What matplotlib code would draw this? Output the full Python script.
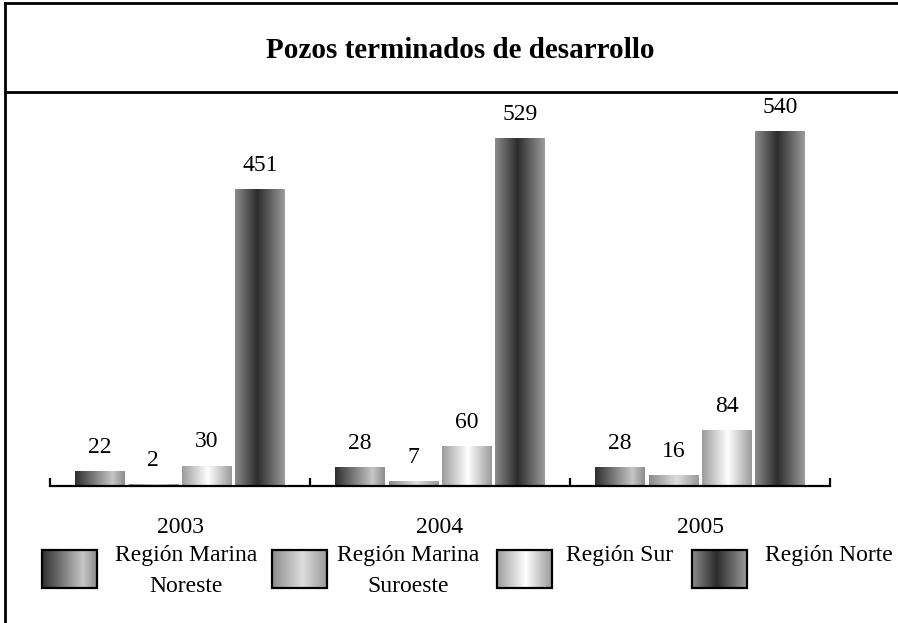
import matplotlib
matplotlib.use("Agg")
import matplotlib.pyplot as plt
import numpy as np
from matplotlib.colors import LinearSegmentedColormap
from matplotlib.patches import Rectangle

plt.rcParams["font.family"] = ["Liberation Serif", "DejaVu Serif"]

# ── Data ──────────────────────────────────────────────────────────────────────
years = ["2003", "2004", "2005"]
regions = ["Región Marina\nNoreste", "Región Marina\nSuroeste", "Región Sur", "Región Norte"]
marina_noreste = [22, 28, 28]
marina_suroeste = [2, 7, 16]
sur = [30, 60, 84]
norte = [451, 529, 540]
series = [marina_noreste, marina_suroeste, sur, norte]

# ── Gradients (horizontal shading of each series) ────────────────────────────
grads = [
    LinearSegmentedColormap.from_list("mn", [(0, "#2e2e2e"), (0.75, "#c6c6c6"), (1, "#8c8c8c")]),
    LinearSegmentedColormap.from_list("ms", [(0, "#8a8a8a"), (0.55, "#dedede"), (1, "#9a9a9a")]),
    LinearSegmentedColormap.from_list("su", [(0, "#9c9c9c"), (0.52, "#ffffff"), (1, "#9a9a9a")]),
    LinearSegmentedColormap.from_list("no", [(0, "#8c8c8c"), (0.45, "#2c2c2c"), (1, "#9c9c9c")]),
]
ramp = np.linspace(0, 1, 256).reshape(1, -1)

W, H = 898, 623
fig = plt.figure(figsize=(W / 100, H / 100), dpi=100)
fig.patch.set_facecolor("white")

# ── Main bar axes ─────────────────────────────────────────────────────────────
ax = fig.add_axes([50 / W, 137 / H, 780 / W, 394 / H])
ax.set_xlim(-0.5, 2.5)
ax.set_ylim(0, 600)
ax.patch.set_alpha(0)

x = np.arange(len(years))
step, bw = 0.205, 0.19
for i, vals in enumerate(series):
    bars = ax.bar(x + (i - 1.5) * step, vals, width=bw, color="none", edgecolor="none")
    for b, v in zip(bars, vals):
        bx, bwid, bh = b.get_x(), b.get_width(), b.get_height()
        ax.imshow(ramp, cmap=grads[i], aspect="auto", interpolation="bilinear",
                  extent=(bx, bx + bwid, 0, bh), zorder=2)
        ax.annotate(f"{v}", (bx + bwid / 2, bh), xytext=(0, 10), textcoords="offset points",
                    ha="center", va="bottom", fontsize=17)
ax.set_xlim(-0.5, 2.5)
ax.set_ylim(0, 600)

for s in ["top", "right", "left"]:
    ax.spines[s].set_visible(False)
ax.spines["bottom"].set_linewidth(1.6)
ax.set_yticks([])
ax.set_xticks([-0.5, 0.5, 1.5, 2.5])
ax.set_xticklabels([])
ax.tick_params(axis="x", which="major", direction="in", length=6, width=1.6)
ax.set_xticks(x, minor=True)
ax.set_xticklabels(years, minor=True, fontsize=17)
ax.tick_params(axis="x", which="minor", length=0, pad=22)

# ── Frame, title and legend ──────────────────────────────────────────────────
ov = fig.add_axes([0, 0, 1, 1])
ov.set_xlim(0, W)
ov.set_ylim(H, 0)
ov.axis("off")
ov.patch.set_alpha(0)
ov.plot([5, 5], [3, H], color="black", lw=2)
ov.plot([5, W], [3, 3], color="black", lw=2)
ov.plot([5, W], [92, 92], color="black", lw=2)
ov.text(460, 51, "Pozos terminados de desarrollo", ha="center", va="center",
        fontsize=21, fontweight="bold")

leg_boxes = [42, 272, 497, 692]
leg_text = [186, 408, 620, 829]
for i, (lx, tx) in enumerate(zip(leg_boxes, leg_text)):
    ov.imshow(ramp, cmap=grads[i], aspect="auto", interpolation="bilinear",
              extent=(lx, lx + 55, 588, 550), zorder=2)
    ov.add_patch(Rectangle((lx, 550), 55, 38, fill=False, edgecolor="black", lw=1.6, zorder=3))
    ov.text(tx, 545, regions[i], ha="center", va="top", fontsize=17, linespacing=1.65)
ov.set_xlim(0, W)
ov.set_ylim(H, 0)

fig.savefig("out.png", dpi=100, facecolor="white")
